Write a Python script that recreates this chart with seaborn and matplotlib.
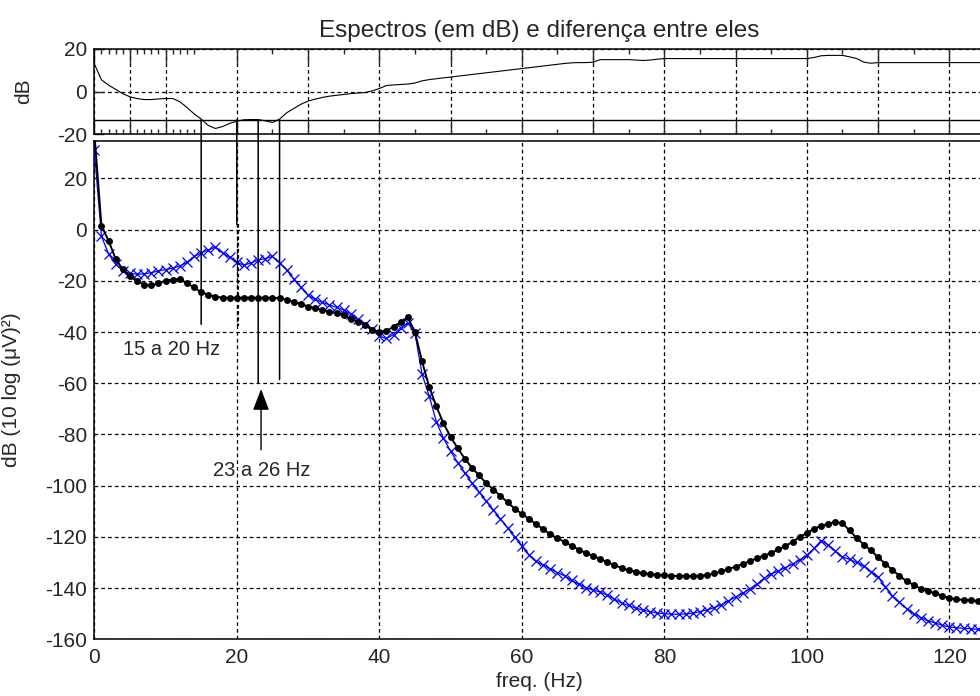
import matplotlib
matplotlib.use("Agg")
import matplotlib.pyplot as plt
import seaborn as sns
import pandas as pd
from matplotlib.patches import ConnectionPatch

# frequency bins (Hz)
freq = list(range(0, 126))

# spectrum 1 (black, dots) in dB
espectro_1 = [
    38.0, 1.5, -4.3, -11.5, -15.5, -18.2, -20.0, -21.5, -21.8, -21.0,
    -20.0, -19.5, -19.3, -21.0, -22.5, -24.5, -25.4, -26.2, -26.6, -26.6,
    -26.6, -26.6, -26.6, -26.6, -26.6, -26.6, -26.8, -27.3, -28.3, -29.0,
    -30.1, -30.7, -31.3, -32.0, -32.7, -33.4, -34.8, -35.9, -37.3, -39.2,
    -39.9, -39.5, -37.9, -36.2, -34.3, -40.0, -51.5, -61.4, -69.0, -75.7,
    -80.9, -85.4, -89.5, -93.0, -96.0, -99.0, -101.5, -104.0, -106.5, -109.0,
    -111.0, -113.0, -115.0, -117.0, -119.0, -120.5, -122.0, -123.5, -125.0, -126.3,
    -127.5, -128.6, -129.9, -131.0, -132.2, -133.0, -133.6, -134.2, -134.5, -134.8,
    -135.0, -135.2, -135.3, -135.3, -135.3, -135.2, -134.9, -134.3, -133.5, -132.6,
    -131.6, -130.6, -129.5, -128.3, -127.3, -126.3, -124.9, -123.5, -122.0, -120.0,
    -118.5, -116.8, -115.7, -114.9, -114.2, -114.7, -117.5, -120.5, -123.0, -125.3,
    -128.0, -130.5, -132.9, -135.2, -137.3, -138.8, -140.2, -141.2, -142.0, -143.0,
    -144.0, -144.4, -144.6, -144.8, -145.0, -145.1,
]

# spectrum 2 (blue, crosses) in dB
espectro_2 = [
    31.0, -2.5, -9.5, -13.5, -16.0, -17.1, -17.4, -17.3, -16.8, -16.2,
    -15.6, -15.1, -14.2, -12.8, -10.5, -9.1, -8.0, -6.8, -9.0, -10.8,
    -12.8, -13.9, -13.0, -11.9, -11.3, -10.5, -13.0, -15.8, -19.4, -22.6,
    -25.6, -27.2, -28.4, -29.4, -30.4, -31.4, -32.9, -35.1, -37.0, -38.8,
    -41.6, -42.5, -41.0, -38.3, -36.5, -40.5, -56.5, -65.0, -75.0, -81.5,
    -86.5, -91.0, -95.0, -99.0, -102.5, -106.0, -109.5, -113.0, -116.5, -120.0,
    -123.5, -127.0, -129.6, -131.0, -132.5, -134.0, -135.2, -137.0, -138.5, -139.8,
    -140.8, -141.5, -142.8, -144.3, -145.8, -146.8, -147.8, -148.6, -149.2, -149.7,
    -150.0, -150.2, -150.2, -150.1, -149.8, -149.2, -148.5, -147.6, -146.5, -145.0,
    -143.5, -142.0, -140.3, -138.5, -136.2, -134.5, -133.3, -132.0, -130.6, -129.0,
    -127.1, -124.5, -121.5, -123.2, -125.5, -127.8, -128.8, -130.0, -131.4, -133.6,
    -135.6, -139.5, -143.0, -145.5, -148.0, -150.0, -151.5, -152.8, -153.6, -154.5,
    -155.2, -155.5, -155.7, -155.9, -156.1, -156.2,
]

# difference between the spectra (dB)
diferenca = [
    13.0, 5.5, 3.0, 1.0, -1.0, -2.5, -3.3, -3.8, -3.8, -3.5,
    -3.3, -3.3, -4.8, -7.5, -10.5, -13.0, -16.0, -17.4, -16.5, -15.0,
    -14.0, -13.3, -13.2, -13.2, -13.8, -14.6, -13.0, -10.0, -8.0, -6.0,
    -4.5, -3.6, -2.8, -2.2, -1.8, -1.4, -1.0, -0.7, -0.5, 0.3,
    1.4, 2.8, 3.1, 3.3, 3.5, 4.0, 5.0, 5.6, 6.0, 6.4,
    6.8, 7.2, 7.6, 8.0, 8.4, 8.8, 9.2, 9.6, 10.0, 10.4,
    10.8, 11.2, 11.6, 12.0, 12.4, 12.8, 13.2, 13.5, 13.6, 13.6,
    13.8, 15.0, 15.0, 15.0, 15.0, 15.0, 14.8, 14.6, 14.8, 15.2,
    15.5, 15.5, 15.5, 15.5, 15.5, 15.5, 15.5, 15.5, 15.5, 15.5,
    15.5, 15.5, 15.5, 15.5, 15.5, 15.5, 15.5, 15.5, 15.5, 15.5,
    15.5, 16.0, 16.8, 17.0, 17.0, 17.0, 16.3, 15.5, 13.8, 13.3,
    13.6, 13.6, 13.6, 13.6, 13.6, 13.6, 13.6, 13.6, 13.6, 13.6,
    13.6, 13.6, 13.6, 13.6, 13.6, 13.6,
]

# threshold level drawn on the difference panel (dB)
limiar = -13.3

# marked frequency bands: x position and lower end of each marker line (dB)
marcas_freq = [15, 20, 23, 26]
marcas_fim = [-37.0, 2.0, -60.0, -58.6]
# dotted extension of the 20 Hz marker (dB range)
marca_20_trecho = [2.0, -37.5]

x_ticks_main = [0, 20, 40, 60, 80, 100, 120]
y_ticks_main = [-160, -140, -120, -100, -80, -60, -40, -20, 0, 20]
x_ticks_top = [0, 5, 10, 20, 30, 40, 50, 60, 70, 80, 90, 100, 110, 120]
x_minor_top = [1, 2, 3, 4, 6, 7, 8, 9, 11, 12, 13, 14, 25, 35, 45, 55, 65,
               75, 85, 95, 105, 115, 125]
y_ticks_top = [-20, 0, 20]

df = pd.DataFrame({"freq": freq, "s1": espectro_1, "s2": espectro_2,
                   "diff": diferenca})

sns.set_style("white")
plt.rcParams["font.family"] = ["Liberation Sans", "DejaVu Sans"]

W, H = 980, 696
fig = plt.figure(figsize=(W / 100, H / 100), dpi=100)
x0, x1 = 94.3, 985.0
ax_top = fig.add_axes([x0 / W, 1 - 134 / H, (x1 - x0) / W, 85 / H])
ax = fig.add_axes([x0 / W, 1 - 639.3 / H, (x1 - x0) / W, (639.3 - 141) / H])

grid_kw = dict(color="black", linestyle=(0, (3.0, 2.4)), linewidth=0.9)

# ---- difference panel ----
sns.lineplot(data=df, x="freq", y="diff", ax=ax_top, color="black",
             linewidth=0.8, zorder=3)
ax_top.axhline(limiar, color="black", linewidth=1.0, zorder=3)
ax_top.set_xlim(0, 125)
ax_top.set_ylim(-20, 20)
ax_top.set_xticks(x_ticks_top)
ax_top.set_xticks(x_minor_top, minor=True)
ax_top.set_yticks(y_ticks_top)
ax_top.set_yticklabels([str(v) for v in y_ticks_top])
ax_top.grid(True, which="major", **grid_kw)
ax_top.set_axisbelow(True)
ax_top.tick_params(axis="x", which="major", direction="in", length=10,
                   width=1, top=True, bottom=True, labelbottom=False)
ax_top.tick_params(axis="x", which="minor", direction="in", length=3.6,
                   width=1, top=True, bottom=True)
ax_top.tick_params(axis="y", direction="in", length=7, width=1,
                   labelsize=15, pad=5, left=True, right=False)
ax_top.set_xlabel("")
ax_top.set_ylabel("dB", fontsize=15)
ax_top.yaxis.set_label_coords(-0.0688, 0.5)
ax_top.set_title("Espectros (em dB) e diferença entre eles", fontsize=17.5,
                 pad=9)

# ---- spectra panel ----
sns.lineplot(data=df, x="freq", y="s1", ax=ax, color="black", linewidth=1.4,
             marker="o", markersize=5.0, markeredgewidth=0,
             markerfacecolor="black", zorder=4)
sns.lineplot(data=df, x="freq", y="s2", ax=ax, color="#0000ff", linewidth=0.9,
             marker="x", markersize=6.5, markeredgewidth=0.9,
             markeredgecolor="#0000ff", zorder=3)
ax.set_xlim(0, 125)
ax.set_ylim(-160, 34.6)
ax.set_xticks(x_ticks_main)
ax.set_yticks(y_ticks_main)
ax.set_xticklabels([str(v) for v in x_ticks_main])
ax.set_yticklabels([str(v) for v in y_ticks_main])
ax.grid(True, **grid_kw)
ax.set_axisbelow(True)
ax.tick_params(direction="in", length=8.6, width=1, labelsize=15)
ax.tick_params(axis="x", pad=6)
ax.tick_params(axis="y", pad=5)
ax.set_xlabel("freq. (Hz)", fontsize=15, labelpad=4)
ax.set_ylabel("dB (10 log (μV)²)", fontsize=15)
ax.yaxis.set_label_coords(-0.0823, 0.5)

for a in (ax, ax_top):
    for s in a.spines.values():
        s.set_color("black")
        s.set_linewidth(1.1)

# marker lines running from the threshold on the difference panel down
for f, yb in zip(marcas_freq, marcas_fim):
    con = ConnectionPatch(xyA=(f, limiar), coordsA=ax_top.transData,
                          xyB=(f, yb), coordsB=ax.transData,
                          color="black", linewidth=1.1, zorder=6)
    fig.add_artist(con)
ax.plot([20.1, 20.1], marca_20_trecho, color="black", linewidth=1.6,
        linestyle=(0, (1.6, 1.2)), zorder=6)

ax.text(10.8, -47, "15 a 20 Hz", ha="center", va="center", fontsize=14.5)
ax.text(23.5, -94.1, "23 a 26 Hz", ha="center", va="center", fontsize=14.5)
ax.annotate("", xy=(23.4, -62.3), xytext=(23.4, -86),
            arrowprops=dict(arrowstyle="-|>,head_length=1.3,head_width=0.5",
                            mutation_scale=10, color="black", lw=1.0,
                            shrinkA=0, shrinkB=0))

fig.savefig("out.png", dpi=100)
